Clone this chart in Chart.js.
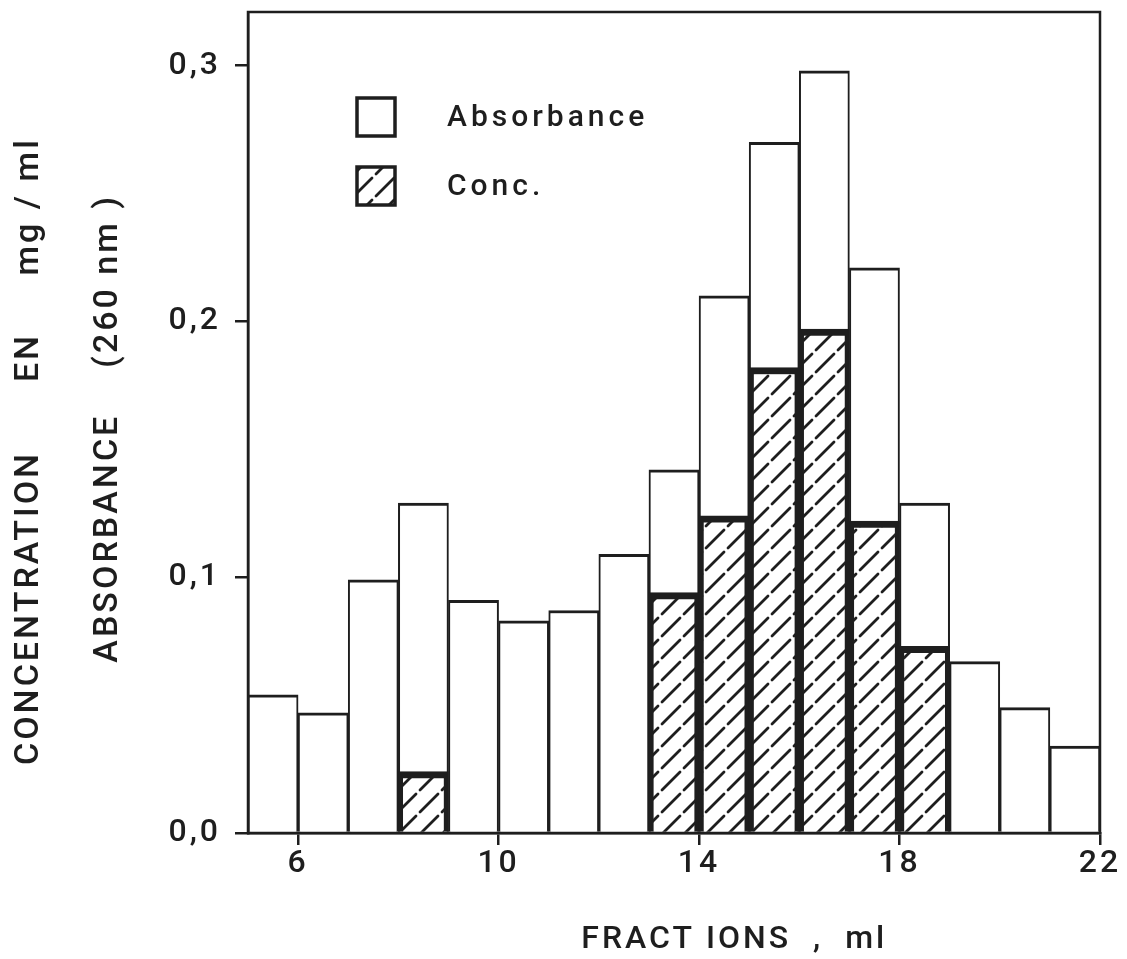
<!DOCTYPE html>
<html>
<head>
<meta charset="utf-8">
<script src="https://cdn.jsdelivr.net/npm/chart.js@4/dist/chart.umd.min.js"></script>
<style>
  html, body { margin: 0; padding: 0; background: #fff; }
  #wrap { width: 1127px; height: 959px; }
</style>
</head>
<body>
<div id="wrap"><canvas id="chart" width="1127" height="959"></canvas></div>
<script>
// fraction centres (ml) - each bar covers one 1 ml fraction
const fractions = [5.5, 6.5, 7.5, 8.5, 9.5, 10.5, 11.5, 12.5, 13.5, 14.5, 15.5, 16.5, 17.5, 18.5, 19.5, 20.5, 21.5];
const absorbance = [0.054, 0.047, 0.099, 0.129, 0.091, 0.083, 0.087, 0.109, 0.142, 0.210, 0.270, 0.298, 0.221, 0.129, 0.067, 0.049, 0.034];

const concFractions = [8.5, 13.5, 14.5, 15.5, 16.5, 17.5, 18.5];
const conc = [0.024, 0.094, 0.124, 0.182, 0.197, 0.122, 0.073];

const xTicks = [6, 10, 14, 18, 22];
const yTicks = [0.0, 0.1, 0.2, 0.3];

const ink = '#1e1e1e';
const fam = 'Roboto, "DejaVu Sans", sans-serif';

// hatch pattern for the conc. bars
const canvas = document.getElementById('chart');
const ctx = canvas.getContext('2d');
const tile = document.createElement('canvas');
tile.width = 22; tile.height = 22;
const tctx = tile.getContext('2d');
tctx.fillStyle = '#fff';
tctx.fillRect(0, 0, 22, 22);
tctx.strokeStyle = ink;
tctx.lineWidth = 2.8;
tctx.lineCap = 'round';
tctx.beginPath();
tctx.moveTo(2, 20);
tctx.lineTo(20, 2);
tctx.stroke();
const hatch = ctx.createPattern(tile, 'repeat');

// letter spaced lettering like the original
const spacing = {
  id: 'spacing',
  beforeDraw(chart) { chart.ctx.letterSpacing = '3px'; }
};

// box round the plot area
const frame = {
  id: 'frame',
  afterDraw(chart) {
    const a = chart.chartArea;
    const c = chart.ctx;
    c.save();
    c.strokeStyle = ink;
    c.lineWidth = 2.5;
    c.strokeRect(a.left, a.top, a.right - a.left, a.bottom - a.top);
    c.restore();
  }
};

// legend inside the plot
const boxLegend = {
  id: 'boxLegend',
  afterDraw(chart) {
    const a = chart.chartArea;
    const c = chart.ctx;
    const items = [
      { text: 'Absorbance', fill: '#fff', dy: 86 },
      { text: 'Conc.', fill: hatch, dy: 155 }
    ];
    c.save();
    c.letterSpacing = '4px';
    items.forEach(it => {
      const x = a.left + 109, y = a.top + it.dy;
      c.fillStyle = it.fill;
      c.fillRect(x, y, 38, 38);
      c.strokeStyle = ink;
      c.lineWidth = 3.5;
      c.strokeRect(x, y, 38, 38);
      c.fillStyle = ink;
      c.font = '500 30px ' + fam;
      c.textBaseline = 'middle';
      c.textAlign = 'left';
      c.fillText(it.text, a.left + 199, y + 20);
    });
    c.restore();
  }
};

new Chart(ctx, {
  type: 'bar',
  data: {
    datasets: [
      {
        label: 'Absorbance',
        data: fractions.map((f, i) => ({ x: f, y: absorbance[i] })),
        backgroundColor: '#fff',
        borderColor: ink,
        borderWidth: { top: 3, left: 2, right: 2, bottom: 0 },
        borderSkipped: false,
        grouped: false,
        barPercentage: 1,
        categoryPercentage: 1,
        order: 2
      },
      {
        label: 'Conc.',
        data: concFractions.map((f, i) => ({ x: f, y: conc[i] })),
        backgroundColor: hatch,
        borderColor: ink,
        borderWidth: { top: 7, left: 5, right: 5, bottom: 0 },
        borderSkipped: false,
        grouped: false,
        barPercentage: 1,
        categoryPercentage: 1,
        order: 1
      }
    ]
  },
  options: {
    responsive: false,
    animation: false,
    layout: { padding: { left: 0, right: 27, top: 12, bottom: 0 } },
    plugins: { legend: { display: false }, tooltip: { enabled: false } },
    scales: {
      x: {
        type: 'linear',
        min: 5,
        max: 22,
        offset: false,
        afterBuildTicks: s => { s.ticks = xTicks.map(v => ({ value: v })); },
        afterFit: s => { s.height = 126; },
        grid: { drawOnChartArea: false, drawTicks: true, tickLength: 12, color: ink, lineWidth: 2.5, offset: false },
        border: { display: true, color: ink, width: 2.5 },
        ticks: { color: ink, font: { family: fam, size: 32, weight: '500' }, padding: 0, maxRotation: 0 },
        title: {
          display: true,
          text: '           FRACT IONS  ,  ml',
          color: ink,
          font: { family: fam, size: 32, weight: '500' },
          padding: { top: 0, bottom: 0 }
        }
      },
      y: {
        min: 0,
        max: 0.321,
        afterBuildTicks: s => { s.ticks = yTicks.map(v => ({ value: v })); },
        afterFit: s => { s.width = 248; s.paddingTop = 0; s.paddingBottom = 0; },
        grid: { drawOnChartArea: false, drawTicks: true, tickLength: 13, color: ink, lineWidth: 2.5 },
        border: { display: true, color: ink, width: 2.5 },
        ticks: {
          color: ink,
          font: { family: fam, size: 32, weight: '500' },
          padding: 14,
          callback: v => v.toFixed(1).replace('.', ',')
        },
        title: {
          display: true,
          text: ['CONCENTRATION      EN     mg / ml     ', 'ABSORBANCE    (260 nm ) '],
          color: ink,
          font: { family: fam, size: 34, weight: '500', lineHeight: 79 / 34 },
          padding: { top: -10, bottom: 0 }
        }
      }
    }
  },
  plugins: [spacing, frame, boxLegend]
});
</script>
</body>
</html>
